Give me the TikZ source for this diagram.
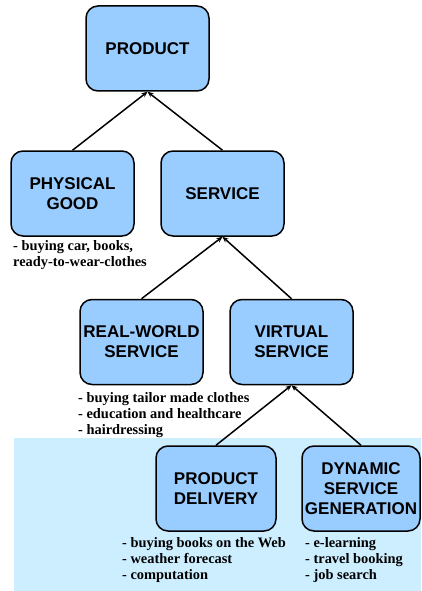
\documentclass[tikz,border=0pt]{standalone}
\usepackage{fontspec}
\setmainfont{Liberation Serif}
\setsansfont{Liberation Sans}
\usetikzlibrary{arrows.meta}
\definecolor{boxfill}{HTML}{99CCFF}
\definecolor{zonefill}{HTML}{CCEEFF}
\tikzset{
  concept/.style={draw=black, line width=1.5pt, fill=boxfill, rounded corners=12pt,
    minimum width=123pt, minimum height=85pt, inner sep=2pt, align=center,
    font=\sffamily\bfseries\fontsize{17}{20}\selectfont},
  examples/.style={anchor=north west, inner sep=0pt, align=left,
    font=\rmfamily\bfseries\fontsize{14.4}{16}\selectfont},
  isa/.style={line width=1.5pt, -{Stealth[length=6pt,width=5pt]}},
}
\begin{document}
\begin{tikzpicture}[x=1pt,y=-1pt]
  \useasboundingbox (0,0) rectangle (421,591);
  % shaded zone of virtual services
  \fill[zonefill] (14,438) rectangle (421,591);

  % concept boxes
  \node[concept] (product)  at (147.5,48.5) {PRODUCT};
  \node[concept] (physical) at (72.5,193.5) {PHYSICAL\\GOOD};
  \node[concept] (service)  at (222.5,193.5) {SERVICE};
  \node[concept] (realworld) at (141.5,342) {REAL-WORLD\\SERVICE};
  \node[concept] (virtual)  at (291.5,342) {VIRTUAL\\SERVICE};
  \node[concept, minimum width=120pt] (delivery) at (216,488.5) {PRODUCT\\DELIVERY};
  \node[concept, minimum width=118pt, inner sep=0pt] (dynamic) at (361,488.5) {DYNAMIC\\SERVICE\\GENERATION};

  % generalisation links
  \draw[isa] (physical.north) -- (product.south);
  \draw[isa] (service.north) -- (product.south);
  \draw[isa] (realworld.north) -- (service.south);
  \draw[isa] (virtual.north) -- (service.south);
  \draw[isa] (delivery.north) -- (virtual.south);
  \draw[isa] (dynamic.north) -- (virtual.south);

  % examples
  \node[examples] (exphysical) at (13,240) {- buying car, books,\\ready-to-wear-clothes};
  \node[examples] (exreal) at (78,392) {- buying tailor made clothes\\- education and healthcare\\- hairdressing};
  \node[examples] (exdelivery) at (122,537) {- buying books on the Web\\- weather forecast\\- computation};
  \node[examples] (exdynamic) at (305,537) {- e-learning\\- travel booking\\- job search};
\end{tikzpicture}
\end{document}
